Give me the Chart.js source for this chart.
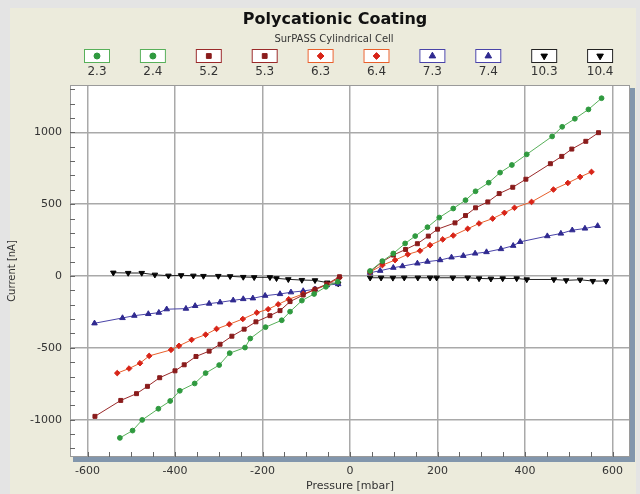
<!DOCTYPE html>
<html>
<head>
<meta charset="utf-8">
<script src="https://cdn.jsdelivr.net/npm/chart.js@4/dist/chart.umd.min.js"></script>
<style>
  html, body { margin: 0; padding: 0; background: #e4e4e4; }
</style>
</head>
<body>
<canvas id="IvChart" width="640" height="494"></canvas>
<script>
// Streaming current vs pressure, one pair of runs per pH (negative / positive branch)
const p23 = [-526, -497, -475, -438, -411, -389, -355, -330, -299, -275, -240, -228, -193, -156, -137, -110, -82, -55, -28];
const i23 = [-1127, -1076, -1002, -924, -870, -799, -748, -676, -620, -537, -498, -435, -356, -308, -248, -171, -125, -75, -40];
const p24 = [46, 74, 99, 126, 149, 177, 204, 236, 264, 287, 317, 343, 370, 404, 462, 485, 514, 545, 575];
const i24 = [35, 104, 157, 227, 278, 340, 407, 470, 528, 590, 650, 720, 773, 847, 972, 1039, 1095, 1160, 1238];

const p52 = [-583, -524, -488, -463, -435, -400, -379, -352, -322, -297, -270, -242, -215, -183, -160, -137, -107, -80, -53, -24];
const i52 = [-977, -866, -819, -768, -708, -660, -618, -560, -523, -475, -419, -370, -319, -276, -241, -178, -132, -92, -56, -5];
const p53 = [46, 74, 99, 127, 154, 179, 200, 240, 264, 287, 315, 341, 372, 402, 458, 484, 507, 539, 568];
const i53 = [30, 100, 146, 185, 225, 278, 326, 370, 421, 475, 516, 574, 618, 674, 782, 833, 884, 938, 998];

const p63 = [-532, -505, -480, -459, -409, -391, -362, -330, -305, -276, -245, -213, -187, -164, -140, -107, -82, -53, -24];
const i63 = [-676, -644, -607, -556, -514, -486, -444, -408, -368, -336, -299, -255, -231, -197, -162, -125, -98, -60, -12];
const p64 = [46, 74, 103, 132, 160, 183, 212, 236, 269, 295, 326, 353, 376, 415, 465, 498, 526, 552];
const i64 = [28, 76, 111, 151, 176, 215, 255, 282, 329, 366, 400, 440, 475, 516, 602, 648, 690, 725];

const p73 = [-584, -520, -493, -461, -437, -419, -375, -354, -322, -297, -267, -244, -222, -194, -160, -135, -107, -80, -53, -27];
const i73 = [-329, -292, -276, -264, -255, -231, -227, -208, -192, -183, -169, -160, -155, -137, -125, -113, -104, -92, -63, -56];
const p74 = [46, 69, 99, 120, 154, 177, 206, 232, 259, 286, 312, 345, 373, 389, 451, 482, 508, 537, 566];
const i74 = [23, 37, 58, 69, 88, 100, 111, 130, 141, 157, 167, 188, 211, 238, 278, 296, 319, 331, 349];

const p103 = [-541, -507, -476, -446, -415, -386, -358, -335, -301, -274, -244, -219, -183, -168, -141, -110, -80, -52, -27];
const i103 = [23, 21, 21, 9, 2, 5, 2, 0, 0, -2, -7, -9, -9, -16, -23, -28, -30, -46, -53];
const p104 = [46, 71, 98, 124, 155, 183, 198, 235, 269, 295, 322, 349, 381, 404, 466, 494, 526, 555, 585];
const i104 = [-12, -12, -13, -12, -12, -12, -12, -12, -12, -17, -19, -17, -17, -24, -24, -30, -26, -35, -35];

const seriesLabels = ["2.3", "2.4", "5.2", "5.3", "6.3", "6.4", "7.3", "7.4", "10.3", "10.4"];
const xTicks = [-600, -400, -200, 0, 200, 400, 600];
const yTicks = [-1000, -500, 0, 500, 1000];

function pts(xs, ys) {
    return xs.map((x, i) => ({ x: x, y: ys[i] }));
}

function series(label, xs, ys, line, marker, style, rotation, radius) {
    return {
        label: label,
        data: pts(xs, ys),
        borderColor: line,
        backgroundColor: marker,
        pointBorderColor: marker,
        pointStyle: style,
        pointRotation: rotation,
        pointRadius: radius,
        pointBorderWidth: 1,
        borderWidth: 1,
        showLine: true,
        fill: false
    };
}

const GREEN = "#58b05a", GREEN_M = "#2f9a3f";
const RED = "#9a2a2a", RED_M = "#8a1c1c";
const ORANGE = "#e8602c", ORANGE_M = "#d82418";
const BLUE = "#4a44a8", BLUE_M = "#302a90";
const BLACK = "#222222", BLACK_M = "#050505";

const datasets = [
    series(seriesLabels[0], p23, i23, GREEN, GREEN_M, "circle", 0, 2.4),
    series(seriesLabels[1], p24, i24, GREEN, GREEN_M, "circle", 0, 2.4),
    series(seriesLabels[2], p52, i52, RED, RED_M, "rect", 0, 2.8),
    series(seriesLabels[3], p53, i53, RED, RED_M, "rect", 0, 2.8),
    series(seriesLabels[4], p63, i63, ORANGE, ORANGE_M, "rectRot", 0, 2.8),
    series(seriesLabels[5], p64, i64, ORANGE, ORANGE_M, "rectRot", 0, 2.8),
    series(seriesLabels[6], p73, i73, BLUE, BLUE_M, "triangle", 0, 3.2),
    series(seriesLabels[7], p74, i74, BLUE, BLUE_M, "triangle", 0, 3.2),
    series(seriesLabels[8], p103, i103, BLACK, BLACK_M, "triangle", 180, 3.2),
    series(seriesLabels[9], p104, i104, BLACK, BLACK_M, "triangle", 180, 3.2)
];

// panel, plot frame, minor ticks, title and legend boxes
const decor = {
    id: "decor",
    beforeDraw(chart) {
        const ctx = chart.ctx, a = chart.chartArea;
        ctx.save();
        ctx.fillStyle = "#e4e4e4";
        ctx.fillRect(0, 0, chart.width, chart.height);
        ctx.fillStyle = "#ecebdc";
        ctx.fillRect(10, 8, 626, chart.height - 8);
        ctx.fillStyle = "#8296ac";
        ctx.fillRect(a.left + 3, a.top + 3, a.right - a.left + 2, a.bottom - a.top + 2);
        ctx.fillStyle = "#ffffff";
        ctx.fillRect(a.left, a.top, a.right - a.left, a.bottom - a.top);
        ctx.restore();
    },
    afterDraw(chart) {
        const ctx = chart.ctx, a = chart.chartArea;
        const xs = chart.scales.x, ys = chart.scales.y;
        ctx.save();
        ctx.strokeStyle = "#9a9a9a";
        ctx.lineWidth = 1;
        ctx.strokeRect(a.left + 0.5, a.top + 0.5, a.right - a.left - 1, a.bottom - a.top - 1);

        ctx.strokeStyle = "#666666";
        ctx.beginPath();
        for (let v = -1200; v <= 1300; v += 100) {
            const y = Math.round(ys.getPixelForValue(v)) + 0.5;
            ctx.moveTo(a.left, y);
            ctx.lineTo(a.left + 5, y);
        }
        for (let v = -600; v <= 600; v += 50) {
            const x = Math.round(xs.getPixelForValue(v)) + 0.5;
            ctx.moveTo(x, a.bottom);
            ctx.lineTo(x, a.bottom - 5);
        }
        ctx.stroke();

        ctx.fillStyle = "#111111";
        ctx.textAlign = "center";
        ctx.textBaseline = "middle";
        ctx.font = "bold 16px 'DejaVu Sans'";
        ctx.fillText("Polycationic Coating", 335, 20);
        ctx.font = "10px 'DejaVu Sans'";
        ctx.fillStyle = "#333333";
        ctx.fillText("SurPASS Cylindrical Cell", 334, 39);

        chart.data.datasets.forEach((ds, i) => {
            const cx = 97 + i * 55.9;
            ctx.fillStyle = "#ffffff";
            ctx.fillRect(cx - 13, 49, 26, 14);
            ctx.strokeStyle = ds.borderColor;
            ctx.lineWidth = 1;
            ctx.strokeRect(cx - 12.5, 49.5, 25, 13);
            ctx.fillStyle = ds.backgroundColor;
            ctx.strokeStyle = ds.pointBorderColor;
            Chart.helpers.drawPoint(ctx, {
                pointStyle: ds.pointStyle,
                rotation: ds.pointRotation,
                radius: ds.pointRadius + 0.6,
                borderWidth: 1
            }, cx, 56);
            ctx.fillStyle = "#333333";
            ctx.font = "12px 'DejaVu Sans'";
            ctx.fillText(ds.label, cx, 72);
        });
        ctx.restore();
    }
};

new Chart("IvChart", {
    type: "scatter",
    data: { datasets: datasets },
    options: {
        responsive: false,
        animation: false,
        layout: { padding: { top: 85, right: 10, left: 0, bottom: 0 } },
        plugins: {
            legend: { display: false },
            tooltip: { enabled: false }
        },
        scales: {
            x: {
                type: "linear",
                min: -640,
                max: 640,
                afterBuildTicks: s => { s.ticks = xTicks.map(v => ({ value: v })); },
                afterFit: s => { s.height = 37; },
                grid: { color: "#a9a9a9", lineWidth: 1.5, drawTicks: false },
                border: { display: false },
                ticks: {
                    color: "#333333",
                    padding: 8,
                    font: { family: "DejaVu Sans", size: 11 },
                    callback: v => String(v)
                },
                title: {
                    display: true,
                    text: "Pressure [mbar]",
                    color: "#333333",
                    padding: { top: 0, bottom: 1 },
                    font: { family: "DejaVu Sans", size: 11 }
                }
            },
            y: {
                type: "linear",
                min: -1260,
                max: 1330,
                afterBuildTicks: s => { s.ticks = yTicks.map(v => ({ value: v })); },
                afterFit: s => { s.width = 70; },
                grid: { color: "#a9a9a9", lineWidth: 1.5, drawTicks: false },
                border: { display: false },
                ticks: {
                    color: "#333333",
                    padding: 8,
                    font: { family: "DejaVu Sans", size: 11 },
                    callback: v => String(v)
                },
                title: {
                    display: true,
                    text: "Current [nA]",
                    color: "#333333",
                    padding: { top: 6, bottom: 0 },
                    font: { family: "DejaVu Sans", size: 10 }
                }
            }
        }
    },
    plugins: [decor]
});
</script>
</body>
</html>
